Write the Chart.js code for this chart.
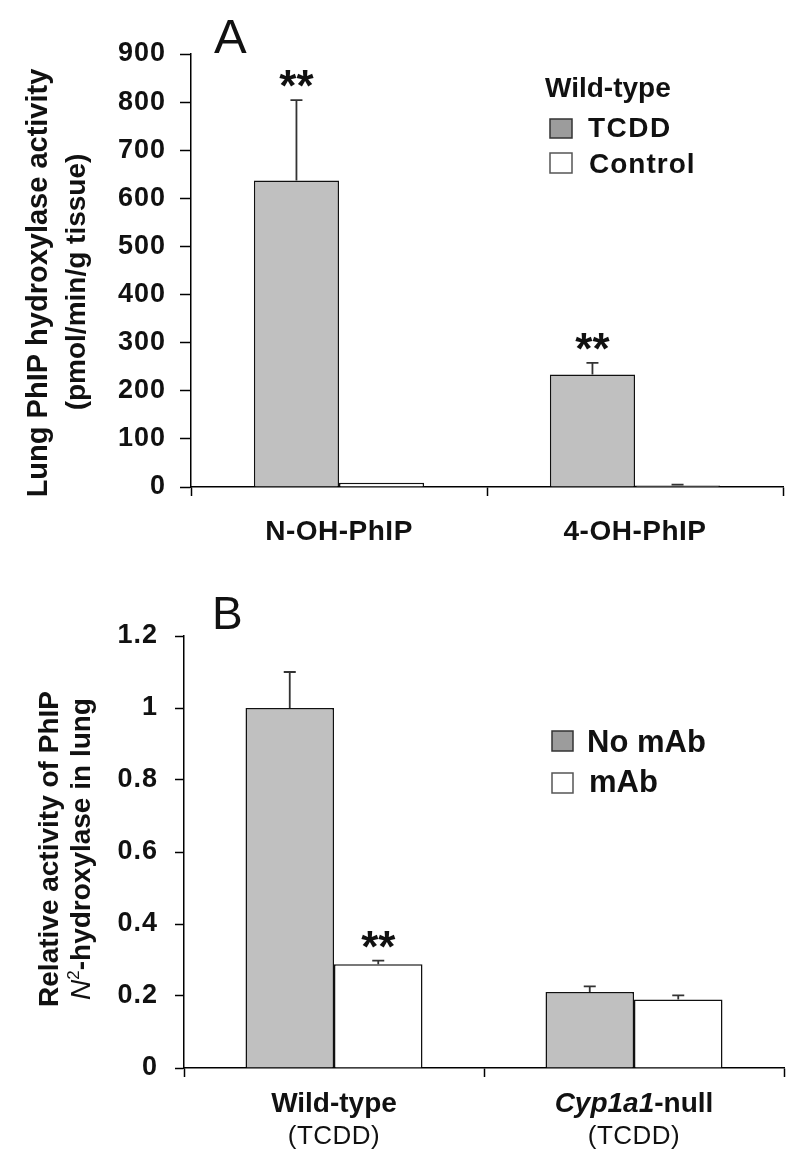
<!DOCTYPE html>
<html>
<head>
<meta charset="utf-8">
<script src="https://cdn.jsdelivr.net/npm/chart.js@4.4.1/dist/chart.umd.min.js"></script>
<style>
    body { margin: 0; background: #fff; }
    canvas { display: block; }
</style>
</head>
<body>
<canvas id="chartA" width="800" height="560"></canvas>
<canvas id="chartB" width="800" height="603"></canvas>
<script>
// Panel A - hydroxylase activity
var catsA = ['N-OH-PhIP', '4-OH-PhIP'];
var tcdd = [637, 234];
var tcddErr = [167, 24];
var control = [9, 3];
var controlErr = [0, 2];
var starsA = ['**', '**'];
var ticksA = [0, 100, 200, 300, 400, 500, 600, 700, 800, 900];
var legendTitleA = 'Wild-type';

// Panel B - relative activity with / without mAb
var catsB = ['Wild-type', 'Cyp1a1-null'];
var italicB = ['', 'Cyp1a1'];
var subB = ['(TCDD)', '(TCDD)'];
var noMab = [1.0, 0.211];
var noMabErr = [0.10, 0.016];
var mab = [0.288, 0.19];
var mabErr = [0.01, 0.012];
var starsB = ['**', ''];
var ticksB = ['0', '0.2', '0.4', '0.6', '0.8', '1', '1.2'];

var FONT = "'Liberation Sans', Arial, sans-serif";
var BAR_GREY = '#c0c0c0';

function drawRich(ctx, parts, x, y, opts) {
    opts = opts || {};
    ctx.save();
    ctx.translate(x, y);
    if (opts.rotate) ctx.rotate(opts.rotate);
    ctx.textBaseline = 'alphabetic';
    ctx.textAlign = 'left';
    ctx.fillStyle = '#111';
    var total = 0;
    parts.forEach(function(p) {
        ctx.font = p.font;
        ctx.letterSpacing = p.spacing || '0px';
        p.w = ctx.measureText(p.text).width;
        total += p.w;
    });
    var cx = opts.align === 'left' ? 0 : -total / 2;
    parts.forEach(function(p) {
        ctx.font = p.font;
        ctx.letterSpacing = p.spacing || '0px';
        ctx.fillText(p.text, cx, p.dy || 0);
        cx += p.w;
    });
    ctx.restore();
}

// error bars (upper half only) and significance stars
function barExtras(errs, stars) {
    return {
        id: 'barExtras',
        afterDatasetsDraw: function(chart) {
            var ctx = chart.ctx, y = chart.scales.y;
            ctx.save();
            ctx.letterSpacing = '0px';
            chart.data.datasets.forEach(function(ds, i) {
                chart.getDatasetMeta(i).data.forEach(function(bar, j) {
                    var top = y.getPixelForValue(ds.data[j] + errs[i][j]);
                    if (errs[i][j] > 0) {
                        ctx.strokeStyle = '#333';
                        ctx.lineWidth = 1.8;
                        ctx.beginPath();
                        ctx.moveTo(bar.x, bar.y);
                        ctx.lineTo(bar.x, top);
                        ctx.moveTo(bar.x - 6, top);
                        ctx.lineTo(bar.x + 6, top);
                        ctx.stroke();
                    }
                    if (stars[i][j]) {
                        ctx.fillStyle = '#111';
                        ctx.font = 'bold 44px ' + FONT;
                        ctx.textAlign = 'center';
                        ctx.textBaseline = 'alphabetic';
                        ctx.fillText(stars[i][j], bar.x, top + 1);
                    }
                });
            });
            ctx.restore();
        }
    };
}

function swatch(ctx, x, y, w, h, fill, stroke) {
    ctx.fillStyle = fill;
    ctx.fillRect(x, y, w, h);
    ctx.strokeStyle = stroke;
    ctx.lineWidth = 1.5;
    ctx.strokeRect(x, y, w, h);
}

var decoA = {
    id: 'decoA',
    beforeDraw: function(chart) { chart.ctx.letterSpacing = '1px'; },
    afterDraw: function(chart) {
        var ctx = chart.ctx, ds = chart.data.datasets, x = chart.scales.x;
        ctx.save();
        drawRich(ctx, [{ text: 'A', font: '49px ' + FONT }], 214, 53, { align: 'left' });
        // y title
        drawRich(ctx, [{ text: 'Lung PhIP hydroxylase activity', font: 'bold 29px ' + FONT }], 47, 283, { rotate: -Math.PI / 2 });
        drawRich(ctx, [{ text: '(pmol/min/g tissue)', font: 'bold 28px ' + FONT }], 85, 282, { rotate: -Math.PI / 2 });
        // category labels
        catsA.forEach(function(c, j) {
            drawRich(ctx, [{ text: c, font: 'bold 28px ' + FONT, spacing: '0.5px' }], x.getPixelForValue(j), 540);
        });
        // legend
        drawRich(ctx, [{ text: legendTitleA, font: 'bold 28px ' + FONT }], 545, 97, { align: 'left' });
        swatch(ctx, 550, 119, 22, 19, '#9c9c9c', '#333');
        swatch(ctx, 550, 153, 22, 20, '#fff', '#555');
        drawRich(ctx, [{ text: ds[0].label, font: 'bold 28px ' + FONT, spacing: '1.5px' }], 588, 137, { align: 'left' });
        drawRich(ctx, [{ text: ds[1].label, font: 'bold 28px ' + FONT, spacing: '1px' }], 589, 173, { align: 'left' });
        ctx.restore();
    }
};

var decoB = {
    id: 'decoB',
    beforeDraw: function(chart) { chart.ctx.letterSpacing = '1px'; },
    afterDraw: function(chart) {
        var ctx = chart.ctx, ds = chart.data.datasets, x = chart.scales.x;
        ctx.save();
        drawRich(ctx, [{ text: 'B', font: '46px ' + FONT }], 212, 69, { align: 'left' });
        drawRich(ctx, [{ text: 'Relative activity of PhIP', font: 'bold 28px ' + FONT }], 58, 289, { rotate: -Math.PI / 2 });
        drawRich(ctx, [
            { text: 'N', font: 'italic 28px ' + FONT },
            { text: '2', font: '17px ' + FONT, dy: -11 },
            { text: '-hydroxylase in lung', font: 'bold 28px ' + FONT }
        ], 90, 289, { rotate: -Math.PI / 2 });
        catsB.forEach(function(c, j) {
            var px = x.getPixelForValue(j);
            var parts;
            if (italicB[j]) {
                parts = [
                    { text: italicB[j], font: 'italic bold 28px ' + FONT },
                    { text: c.slice(italicB[j].length), font: 'bold 28px ' + FONT }
                ];
            } else {
                parts = [{ text: c, font: 'bold 28px ' + FONT }];
            }
            drawRich(ctx, parts, px, 552);
            drawRich(ctx, [{ text: subB[j], font: '26px ' + FONT, spacing: '0.5px' }], px, 584);
        });
        swatch(ctx, 552, 171, 21, 20, '#9c9c9c', '#333');
        swatch(ctx, 552, 213, 21, 20, '#fff', '#555');
        drawRich(ctx, [{ text: ds[0].label, font: 'bold 31px ' + FONT }], 587, 192, { align: 'left' });
        drawRich(ctx, [{ text: ds[1].label, font: 'bold 31px ' + FONT }], 589, 232, { align: 'left' });
        ctx.restore();
    }
};

function axisOpts(yWidth, xHeight, yTickLen, yPad) {
    return {
        x: {
            afterFit: function(s) { s.height = xHeight; },
            grid: { offset: true, drawOnChartArea: false, drawTicks: true, tickLength: 9, tickColor: '#000', tickWidth: 1.5 },
            border: { color: '#000', width: 1.5 },
            ticks: { display: false }
        },
        y: {
            afterFit: function(s) { s.width = yWidth; },
            grid: { drawOnChartArea: false, drawTicks: true, tickLength: yTickLen, tickColor: '#000', tickWidth: 1.5 },
            border: { color: '#000', width: 1.5 },
            ticks: { color: '#111', padding: yPad, font: { family: FONT, size: 27, weight: 'bold' } }
        }
    };
}

var scalesA = axisOpts(191, 73, 11, 14);
scalesA.y.min = 0;
scalesA.y.max = 900;
scalesA.y.afterBuildTicks = function(s) { s.ticks = ticksA.map(function(v) { return { value: v }; }); };

var chartA = new Chart(document.getElementById('chartA').getContext('2d'), {
    type: 'bar',
    data: {
        labels: catsA,
        datasets: [{
            label: 'TCDD',
            data: tcdd,
            backgroundColor: BAR_GREY,
            borderColor: '#111',
            borderWidth: 1.5
        }, {
            label: 'Control',
            data: control,
            backgroundColor: '#fff',
            borderColor: '#111',
            borderWidth: 1.5
        }]
    },
    options: {
        responsive: false,
        animation: false,
        categoryPercentage: 0.575,
        barPercentage: 1.0,
        layout: { padding: { top: 54, right: 17, left: 0, bottom: 0 } },
        scales: scalesA,
        plugins: { legend: { display: false }, tooltip: { enabled: false } }
    },
    plugins: [barExtras([tcddErr, controlErr], [starsA, ['', '']]), decoA]
});

var scalesB = axisOpts(184, 95, 9, 17);
scalesB.y.min = 0;
scalesB.y.max = 1.2;
scalesB.y.afterBuildTicks = function(s) { s.ticks = ticksB.map(function(v) { return { value: parseFloat(v) }; }); };
scalesB.y.ticks.callback = function(v, i) { return ticksB[i]; };

var chartB = new Chart(document.getElementById('chartB').getContext('2d'), {
    type: 'bar',
    data: {
        labels: catsB,
        datasets: [{
            label: 'No mAb',
            data: noMab,
            backgroundColor: BAR_GREY,
            borderColor: '#111',
            borderWidth: 1.5
        }, {
            label: 'mAb',
            data: mab,
            backgroundColor: '#fff',
            borderColor: '#111',
            borderWidth: 1.5
        }]
    },
    options: {
        responsive: false,
        animation: false,
        categoryPercentage: 0.59,
        barPercentage: 1.0,
        layout: { padding: { top: 76, right: 16, left: 0, bottom: 0 } },
        scales: scalesB,
        plugins: { legend: { display: false }, tooltip: { enabled: false } }
    },
    plugins: [barExtras([noMabErr, mabErr], [['', ''], starsB]), decoB]
});
</script>
</body>
</html>
